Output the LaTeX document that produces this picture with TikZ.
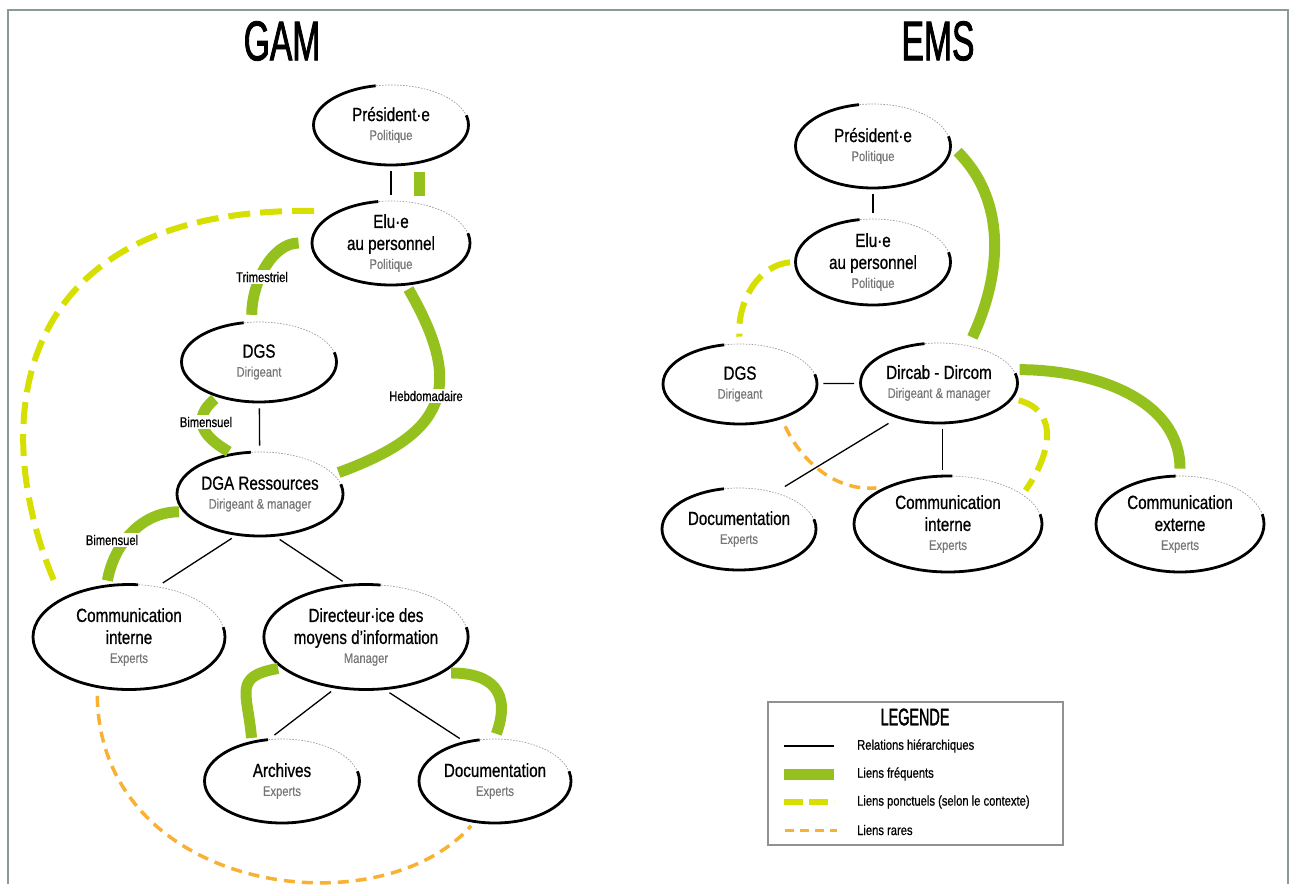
\documentclass[tikz,border=0pt]{standalone}
\usepackage{fontspec}
\setmainfont{Liberation Sans}[FakeStretch=0.8, FakeBold=0.7]
\newfontfamily\titrefont{Liberation Sans}[FakeStretch=0.6, FakeBold=1.5]
\newfontfamily\rolefont{Liberation Sans}[FakeStretch=0.8, FakeBold=0.4]
\usepackage{tikz}
\usetikzlibrary{shapes.geometric}
\usetikzlibrary{calc}

\definecolor{vert}{HTML}{95C11F}
\definecolor{jaune}{HTML}{D7DF01}
\definecolor{orangeclair}{HTML}{F8B133}
\definecolor{gris}{HTML}{767676}
\definecolor{cadre}{HTML}{8A9999}
\newcommand{\fonction}[1]{{\rolefont\fontsize{14}{16}\selectfont\color{gris}#1}}

\begin{document}
\begin{tikzpicture}[x=1pt,y=1pt]
		\tikzset{
			bulle/.style 2 args={ellipse, draw=black, line width=2.8pt, minimum width=#1pt, minimum height=#2pt, inner sep=0pt, align=center, font=\fontsize{19}{22}\selectfont, dash pattern=on 10pt off 100pt on 2000pt, preaction={draw=gray!80, line width=0.7pt, dash pattern=on 1.5pt off 1.5pt}},
			hierarchie/.style={draw=black, line width=1.3pt, shorten <=5pt, shorten >=5pt},
			frequent/.style={draw=vert, line width=11pt},
			ponctuel/.style={draw=jaune, line width=6pt, dash pattern=on 22pt off 10pt},
			rare/.style={draw=orangeclair, line width=3.5pt, dash pattern=on 11pt off 7pt},
			etiquette/.style={fill=white, inner sep=1.5pt, font=\fontsize{14}{16}\selectfont},
			legtexte/.style={anchor=west, inner sep=0pt, font=\fontsize{14}{16}\selectfont},
			titre/.style={font=\titrefont\fontsize{56}{60}\selectfont}
		}
		\useasboundingbox (0,0) rectangle (1289,-884);
		\draw[cadre, line width=2pt] (8,-884) -- (8,-10) -- (1288,-10) -- (1288,-884);

		% GAM
		\node[titre] (gam) at (282,-41) {GAM};
		\node[bulle={155}{80}] (pres1) at (391,-125) {Président·e\\[-3pt]\fonction{Politique}};
		\node[bulle={158}{84}] (elu1) at (391,-243) {Elu·e\\au personnel\\[-3pt]\fonction{Politique}};
		\node[bulle={155}{80}] (dgs1) at (259,-362) {DGS\\[-3pt]\fonction{Dirigeant}};
		\node[bulle={160}{84}] (dga1) at (260,-494) {DGA Ressources\\[-3pt]\fonction{Dirigeant \& manager}};
		\node[bulle={192}{105}] (comint1) at (129,-637) {Communication\\interne\\[-3pt]\fonction{Experts}};
		\node[bulle={195}{105}] (dmi1) at (366,-637) {Directeur·ice des\\moyens d’information\\[-3pt]\fonction{Manager}};
		\node[bulle={155}{84}] (arch1) at (282,-781) {Archives\\[-3pt]\fonction{Experts}};
		\node[bulle={152}{84}] (doc1) at (495,-781) {Documentation\\[-3pt]\fonction{Experts}};

		\draw[hierarchie] (pres1) -- (elu1);
		\draw[frequent] ($(pres1.south)+(28,-6)$) -- ($(elu1.north)+(28,4)$);
		\draw[hierarchie] (dgs1) -- (dga1);
		\draw[hierarchie] (dga1.-120) -- (comint1.60);
		\draw[hierarchie] (dga1.-70) -- (dmi1.110);
		\draw[hierarchie] (dmi1.-121) -- (arch1.105);
		\draw[hierarchie] (dmi1.-70) -- (doc1.128);

		\draw[frequent, shorten <=12pt, shorten >=6pt] (elu1.west) to[out=180,in=90] (dgs1.100);
		\draw[frequent, shorten <=4pt, shorten >=4pt] (elu1.-70) to[out=-60,in=20,looseness=1.5] (dga1.15);
		\draw[frequent, shorten <=3pt, shorten >=3pt] (dgs1.-140) to[out=-140,in=150,looseness=1.5] (dga1.125);
		\draw[frequent, shorten <=4pt, shorten >=4pt] (dga1.193) to[out=180,in=80] (comint1.113);
		\draw[frequent, shorten <=3pt, shorten >=3pt] (dmi1.200) to[out=190,in=95,looseness=1.6] (arch1.127);
		\draw[frequent, shorten <=8pt, shorten >=4pt] (dmi1.-25) to[out=0,in=70,looseness=1.5] (doc1.north);

		\draw[ponctuel, shorten <=22pt, shorten >=12pt] (elu1.150) .. controls +(-330,5) and +(-75,170) .. (comint1.150);
		\draw[rare, shorten <=8pt, shorten >=4pt] (comint1.-122) .. controls +(3,-205) and +(-95,-108) .. (doc1.-117);

		\node[etiquette] (trim) at (262,-277) {Trimestriel};
		\node[etiquette] (hebdo) at (426,-396) {Hebdomadaire};
		\node[etiquette] (bim1) at (206,-422) {Bimensuel};
		\node[etiquette] (bim2) at (112,-540) {Bimensuel};

		% EMS
		\node[titre] (ems) at (938,-41) {EMS};
		\node[bulle={155}{84}] (pres2) at (873,-146) {Président·e\\[-3pt]\fonction{Politique}};
		\node[bulle={155}{86}] (elu2) at (873,-262) {Elu·e\\au personnel\\[-3pt]\fonction{Politique}};
		\node[bulle={154}{80}] (dgs2) at (740,-384) {DGS\\[-3pt]\fonction{Dirigeant}};
		\node[bulle={157}{80}] (dircab2) at (939,-383) {Dircab - Dircom\\[-3pt]\fonction{Dirigeant \& manager}};
		\node[bulle={154}{82}] (doc2) at (739,-529) {Documentation\\[-3pt]\fonction{Experts}};
		\node[bulle={188}{96}] (comint2) at (948,-524) {Communication\\interne\\[-3pt]\fonction{Experts}};
		\node[bulle={168}{96}] (comext2) at (1180,-524) {Communication\\externe\\[-3pt]\fonction{Experts}};

		\draw[hierarchie] (pres2) -- (elu2);
		\draw[hierarchie] (dgs2) -- (dircab2);
		\draw[hierarchie, shorten <=10pt, shorten >=10pt] (dircab2.-140) -- (doc2.45);
		\draw[hierarchie] (dircab2.-85) -- (dircab2.-85 |- comint2.north);

		\draw[frequent, shorten <=8pt, shorten >=8pt] (pres2.east) to[out=-45,in=65] (dircab2.52);
		\draw[frequent, shorten <=5pt, shorten >=6pt] (dircab2.10) to[out=0,in=90] (comext2.north);
		\draw[ponctuel, shorten <=4pt, shorten >=6pt] (elu2.west) to[out=185,in=95] (dgs2.north);
		\draw[ponctuel, shorten <=6pt, shorten >=4pt] (dircab2.-12) to[out=-15,in=55,looseness=1.3] (comint2.22);
		\draw[rare, shorten <=8pt, shorten >=8pt] (dgs2.-40) to[out=-65,in=185] (comint2.150);

		% legende
		\draw[draw=gris!80, line width=1.2pt] (768,-702) rectangle (1063,-845);
		\node[font=\titrefont\fontsize{24}{26}\selectfont] (legende) at (915,-717) {LEGENDE};
		\node[legtexte] (leg1) at (857,-746) {Relations hiérarchiques};
		\node[legtexte] (leg2) at (857,-774) {Liens fréquents};
		\node[legtexte] (leg3) at (857,-802) {Liens ponctuels (selon le contexte)};
		\node[legtexte] (leg4) at (857,-830) {Liens rares};
		\draw[hierarchie, shorten <=0pt, shorten >=0pt] ([xshift=-73pt]leg1.west) -- ([xshift=-23pt]leg1.west);
		\draw[frequent] ([xshift=-73pt]leg2.west) -- ([xshift=-23pt]leg2.west);
		\draw[ponctuel, dash pattern=on 19pt off 6pt] ([xshift=-73pt]leg3.west) -- ([xshift=-23pt]leg3.west);
		\draw[rare, line width=3pt, dash pattern=on 9pt off 6pt] ([xshift=-72pt]leg4.west) -- ([xshift=-20pt]leg4.west);
	\end{tikzpicture}
\end{document}
